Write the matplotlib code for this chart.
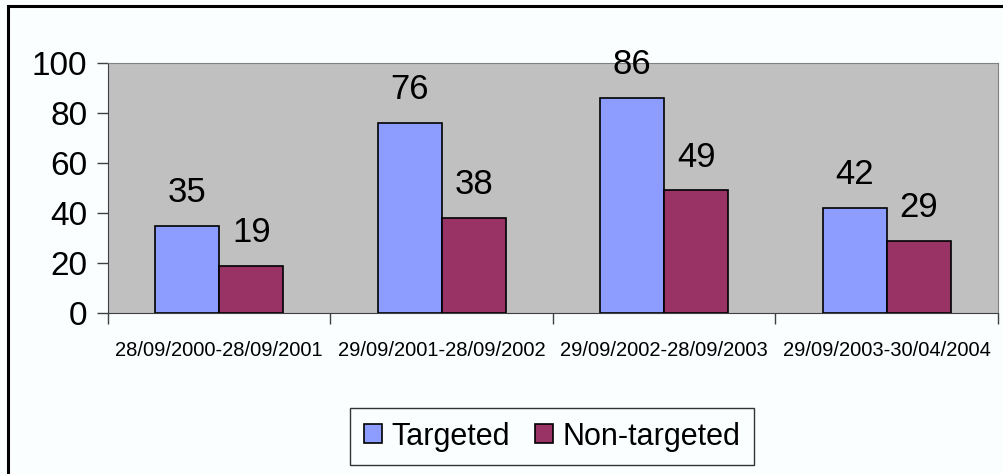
import matplotlib.pyplot as plt
import matplotlib.patches as mpatches
import numpy as np

periods = ["28/09/2000-28/09/2001", "29/09/2001-28/09/2002",
           "29/09/2002-28/09/2003", "29/09/2003-30/04/2004"]
targeted = [35, 76, 86, 42]
non_targeted = [19, 38, 49, 29]
y_ticks = [0, 20, 40, 60, 80, 100]

plt.rcParams['font.family'] = ['Liberation Sans', 'DejaVu Sans']

fig = plt.figure(figsize=(10.04, 4.74), dpi=100)
fig.patch.set_facecolor("#FAFEFE")

# outer chart border
fig.patches.append(mpatches.Rectangle((8 / 1004, -0.01), 1.0, 1 - 6 / 474 + 0.01,
                                      transform=fig.transFigure, fill=False,
                                      edgecolor="black", linewidth=2.2))

ax = fig.add_axes([108 / 1004, 1 - 313 / 474, 890 / 1004, 250 / 474])
ax.set_facecolor("#C0C0C0")

x = np.arange(len(periods))
w = 0.2875
b1 = ax.bar(x - w / 2, targeted, w, color="#8C9CFF", edgecolor="black", linewidth=1.2, label="Targeted")
b2 = ax.bar(x + w / 2, non_targeted, w, color="#993366", edgecolor="black", linewidth=1.2, label="Non-targeted")

for bars, vals in ((b1, targeted), (b2, non_targeted)):
    for r, v in zip(bars, vals):
        ax.annotate(str(v), (r.get_x() + r.get_width() / 2, v), xytext=(0, 12),
                    textcoords="offset points", ha="center", va="bottom", fontsize=25)

ax.set_xlim(-0.5, len(periods) - 0.5)
ax.set_ylim(0, 100)
ax.set_yticks(y_ticks)
ax.tick_params(axis="y", labelsize=24, length=8, width=1, color="#404040", pad=7)
ax.set_xticks(x)
ax.set_xticklabels(periods, fontsize=14.5)
ax.tick_params(axis="x", which="major", length=0, pad=20)
ax.set_xticks(np.arange(len(periods) + 1) - 0.5, minor=True)
ax.tick_params(axis="x", which="minor", length=8, width=1, color="#404040")

for s in ("top", "right"):
    ax.spines[s].set_color("#808080")
for s in ("left", "bottom"):
    ax.spines[s].set_color("#404040")

leg = fig.legend(loc="center", bbox_to_anchor=(552 / 1004, 1 - 436.5 / 474), ncol=2,
                 fontsize=22, frameon=True, fancybox=False, edgecolor="black",
                 handlelength=0.6, handleheight=0.6, handletextpad=0.3,
                 columnspacing=0.8, borderpad=0.45, borderaxespad=0)
leg.get_frame().set_linewidth(1)
leg.get_frame().set_facecolor("#FAFEFE")

fig.savefig("out.png", dpi=100, facecolor=fig.get_facecolor())
